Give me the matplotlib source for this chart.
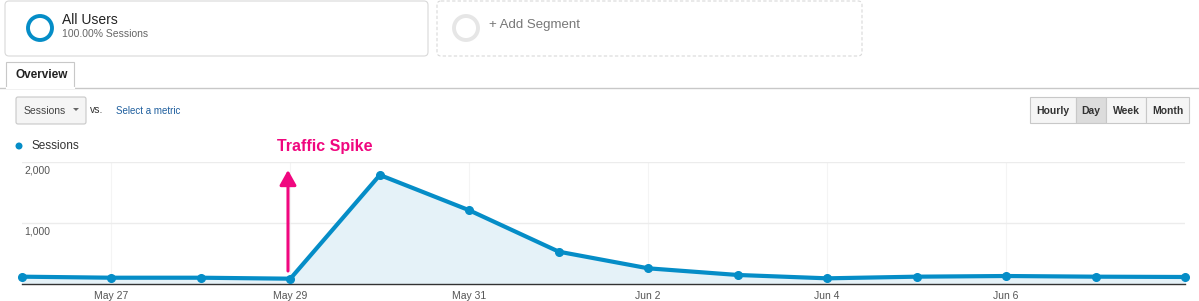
import numpy as np
import matplotlib
matplotlib.use("Agg")
import matplotlib.pyplot as plt
from matplotlib.patches import FancyBboxPatch, Rectangle, Circle, Polygon

# data
days = ["May 26", "May 27", "May 28", "May 29", "May 30", "May 31", "Jun 1",
        "Jun 2", "Jun 3", "Jun 4", "Jun 5", "Jun 6", "Jun 7", "Jun 8"]
sessions = [120, 103, 103, 87, 1787, 1208, 530, 257, 148, 93, 120, 131, 120, 115]
tick_idx = [1, 3, 5, 7, 9, 11]
ytick_vals = [1000, 2000]
ytick_labels = ["1,000", "2,000"]
buttons = ["Hourly", "Day", "Week", "Month"]

plt.rcParams['font.family'] = ['Liberation Sans', 'DejaVu Sans']
BLUE = "#058dc7"
PINK = "#f0077f"
W, H = 1199, 301

fig = plt.figure(figsize=(W / 100, H / 100), dpi=100)
fig.patch.set_facecolor("white")

# chart
ax = fig.add_axes([22 / W, 17 / H, (1185 - 22) / W, (284 - 162) / H])
ax.patch.set_alpha(0)
x = np.arange(len(days))
ax.fill_between(x, sessions, 0, color="#e5f2f8", zorder=1)
ax.plot(x, sessions, color=BLUE, lw=3, marker="o", ms=5.5, zorder=3, clip_on=False)
ax.set_xlim(0, len(days) - 1)
ax.set_ylim(0, 2000)
ax.set_yticks(ytick_vals)
ax.set_yticklabels([])
ax.tick_params(left=False, bottom=False)
ax.yaxis.grid(True, color="#ececec", lw=1)
for i in tick_idx:
    ax.axvline(i, color="#f4f4f4", lw=0.8, zorder=0)
ax.set_xticks(tick_idx)
ax.set_xticklabels([days[i] for i in tick_idx], fontsize=7.5, color="#555")
ax.tick_params(axis="x", pad=1.5)
for v, lab in zip(ytick_vals, ytick_labels):
    ax.text(0.03, v - 60, lab, fontsize=7.5, color="#555", va="top", ha="left")
for s in ["top", "right", "left"]:
    ax.spines[s].set_visible(False)
ax.spines["bottom"].set_color("#333")
ax.spines["bottom"].set_linewidth(1)
ax.set_axisbelow(True)

# overlay in pixel coordinates for the UI chrome
ui = fig.add_axes([0, 0, 1, 1])
ui.set_xlim(0, W)
ui.set_ylim(H, 0)
ui.axis("off")
ui.set_zorder(2)

# segment boxes
ui.add_patch(FancyBboxPatch((5, 1), 423, 55, boxstyle="round,pad=0,rounding_size=4",
                            fc="white", ec="#d9d9d9", lw=0.8))
ui.add_patch(Circle((40, 28), 12, fc="none", ec=BLUE, lw=2.8))
ui.text(62, 20, "All Users", fontsize=10, color="#222", va="center")
ui.text(62, 34, "100.00% Sessions", fontsize=7.5, color="#666", va="center")

ui.add_patch(FancyBboxPatch((437, 1), 425, 55, boxstyle="round,pad=0,rounding_size=4",
                            fc="white", ec="#d9d9d9", lw=0.8, ls=(0, (3, 2))))
ui.add_patch(Circle((466, 28), 12, fc="none", ec="#e6e6e6", lw=2.8))
ui.text(489, 25, "+ Add Segment", fontsize=9.5, color="#777", va="center")

# tab + rule
ui.plot([0, W], [88, 88], color="#c8c8c8", lw=1)
ui.add_patch(Rectangle((6, 62), 68, 26, fc="white", ec="#c8c8c8", lw=0.8))
ui.plot([6.5, 73.5], [88, 88], color="white", lw=1.5)
ui.text(16, 75, "Overview", fontsize=8.5, fontweight="bold", color="#222", va="center")

# metric dropdown
ui.add_patch(FancyBboxPatch((16, 97), 70, 27, boxstyle="round,pad=0,rounding_size=2",
                            fc="#f5f5f5", ec="#c8c8c8", lw=0.8))
ui.text(24, 111, "Sessions", fontsize=7.5, color="#444", va="center")
ui.add_patch(Polygon([[73, 108], [79, 108], [76, 111]], fc="#666", ec="none"))
ui.text(90, 110, "vs.", fontsize=7.5, color="#333", va="center")
ui.text(116, 111, "Select a metric", fontsize=7, color="#1f5f9e", va="center")

# period buttons
edges = [1030, 1076, 1106, 1146, 1189]
for i, b in enumerate(buttons):
    fc = "#dcdcdc" if b == "Day" else "#f5f5f5"
    ui.add_patch(Rectangle((edges[i], 97), edges[i + 1] - edges[i], 26,
                           fc=fc, ec="#c8c8c8", lw=0.8))
    ui.text((edges[i] + edges[i + 1]) / 2, 110.5, b, fontsize=7.5, fontweight="bold",
            color="#333", ha="center", va="center")

# legend
ui.add_patch(Circle((19, 146), 3.5, fc=BLUE, ec="none"))
ui.text(32, 146, "Sessions", fontsize=8.5, color="#333", va="center")

# annotation
ui.text(277, 147, "Traffic Spike", fontsize=11.5, fontweight="bold", color=PINK, va="center")
ui.annotate("", xy=(288, 170), xytext=(288, 271),
            arrowprops=dict(arrowstyle="-|>,head_length=0.9,head_width=0.5",
                            color=PINK, lw=2.2, shrinkA=0, shrinkB=0))

fig.savefig("out.png", dpi=100)
